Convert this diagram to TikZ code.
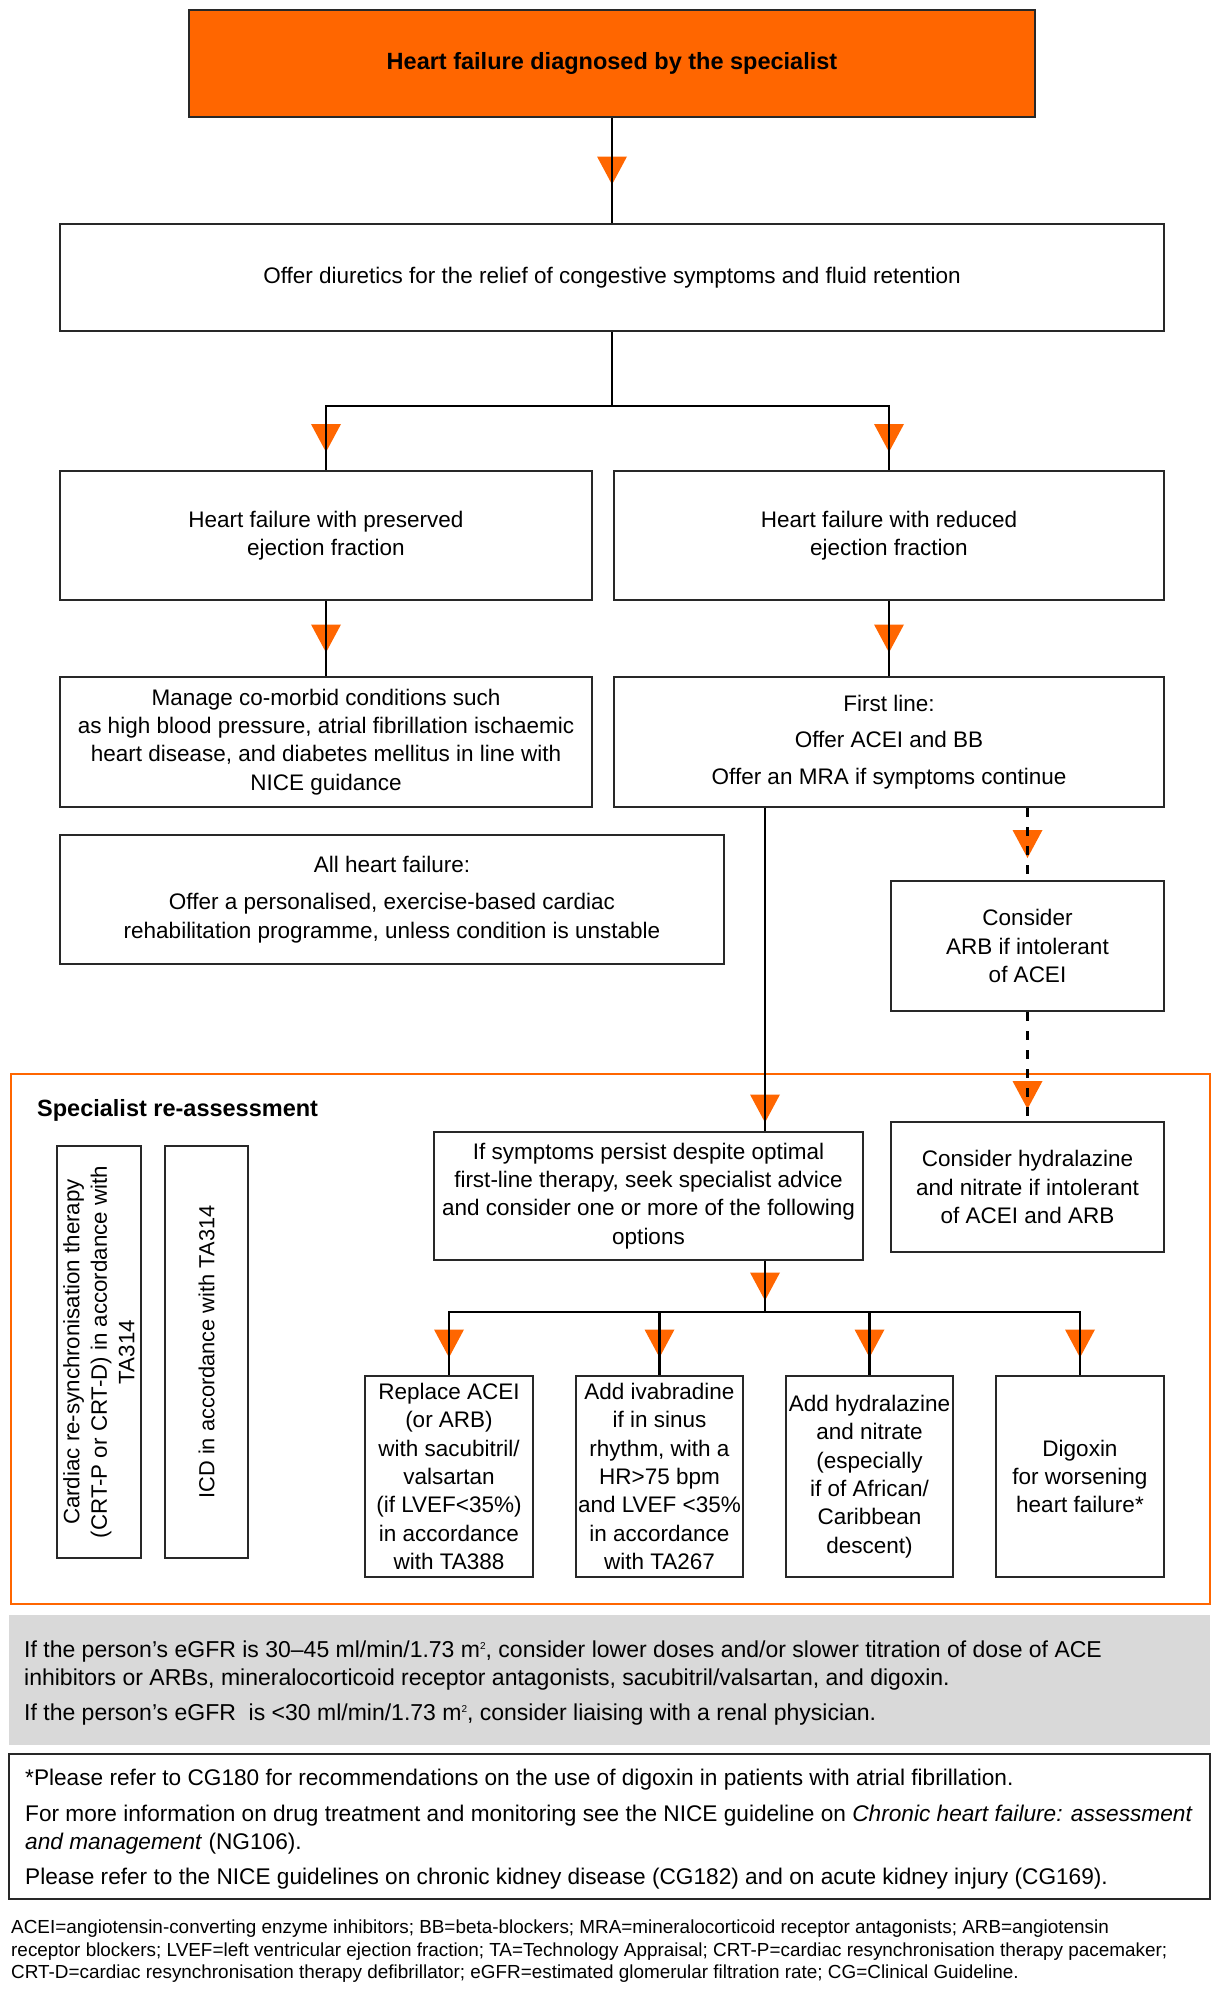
\documentclass[tikz,border=0pt]{standalone}
\usepackage{fontspec}
\setmainfont{Liberation Sans}
\usetikzlibrary{decorations.markings}
\definecolor{hforange}{RGB}{255,102,0}
\definecolor{hfgray}{RGB}{217,217,217}
\definecolor{hfline}{RGB}{40,40,40}
\newcommand\mainfs{\fontsize{22.5}{28.3}\selectfont}
\newcommand\panelfs{\fontsize{23}{28.3}\selectfont}
\newcommand\notefs{\fontsize{22.65}{28.3}\selectfont}
\newcommand\boldfs{\fontsize{23.5}{28}\selectfont\bfseries}
\newcommand\smallfs{\fontsize{18.9}{22.5}\selectfont}
\newcommand\sqm{m\raisebox{8pt}{\fontsize{10}{10}\selectfont 2}}
\begin{document}
\begin{tikzpicture}[x=1pt,y=-1pt,
  box/.style={draw=hfline, line width=2pt, fill=white, align=center, inner sep=0pt, font=\mainfs, text=black},
  conn/.style={draw=black, line width=2.4pt},
  dashpat/.style={dash pattern=on 9pt off 10pt},
  tri/.style={preaction={decorate,decoration={markings,mark=at position #1 with {\fill[hforange] (14pt,0pt) -- (-14pt,15pt) -- (-14pt,-15pt) -- cycle;}}}},
  tri/.default=0.5,
  txt/.style={anchor=base west, inner sep=0pt, font=\panelfs, text=black},
  notetxt/.style={anchor=base west, inner sep=0pt, font=\notefs, text=black},
  smalltxt/.style={anchor=base west, inner sep=0pt, font=\smallfs, text=black},
]
\useasboundingbox (0,0) rectangle (1223,2000);
\fill[white] (0,0) rectangle (1223,2000);

% containers
\node[draw=hforange, line width=2.5pt, minimum width=1199pt, minimum height=530pt, inner sep=0pt] (frame) at (610.5,1339) {};
\node[fill=hfgray, minimum width=1201pt, minimum height=130pt, inner sep=0pt] (grey) at (609.5,1680) {};
\node[draw=hfline, line width=2pt, minimum width=1201pt, minimum height=145pt, inner sep=0pt] (note) at (609.5,1826.5) {};

% boxes
\node[box, fill=hforange, font=\boldfs, minimum width=846pt, minimum height=107pt] (top) at (612,63.5) {Heart failure diagnosed by the specialist};
\node[box, minimum width=1104pt, minimum height=107pt] (diur) at (612,277.5) {Offer diuretics for the relief of congestive symptoms and fluid retention};
\node[box, minimum width=532pt, minimum height=129pt] (pres) at (326,535.5) {Heart failure with preserved\\ejection fraction};
\node[box, minimum width=550pt, minimum height=129pt] (red) at (889,535.5) {Heart failure with reduced\\ejection fraction};
\node[box, minimum width=532pt, minimum height=130pt] (manage) at (326,742) {Manage co-morbid conditions such\\as high blood pressure, atrial fibrillation ischaemic\\heart disease, and diabetes mellitus in line with\\NICE guidance};
\node[box, minimum width=550pt, minimum height=130pt] (first) at (889,742) {First line:\\[8pt]Offer ACEI and BB\\[8pt]Offer an MRA if symptoms continue};
\node[box, minimum width=664pt, minimum height=129pt] (allhf) at (392,899.5) {All heart failure:\\[9pt]Offer a personalised, exercise-based cardiac\\rehabilitation programme, unless condition is unstable};
\node[box, minimum width=273pt, minimum height=130pt] (arb) at (1027.5,946) {Consider\\ARB if intolerant\\of ACEI};

\node[anchor=base west, inner sep=0pt, font=\boldfs, text=black] (spec) at (37,1116) {Specialist re-assessment};
\node[box, minimum width=429pt, minimum height=128pt] (ifsym) at (648.5,1196) {If symptoms persist despite optimal\\first-line therapy, seek specialist advice\\and consider one or more of the following\\options};
\node[box, minimum width=273pt, minimum height=130pt] (hyd) at (1027.5,1187) {Consider hydralazine\\and nitrate if intolerant\\of ACEI and ARB};
\node[box, rotate=90, minimum width=412pt, minimum height=84pt, font=\fontsize{22.3}{27.5}\selectfont] (crt) at (99,1352) {Cardiac re-synchronisation therapy\\(CRT-P or CRT-D) in accordance with\\TA314};
\node[box, rotate=90, minimum width=412pt, minimum height=83pt, font=\fontsize{21.8}{27.5}\selectfont] (icd) at (206.5,1352) {ICD in accordance with TA314};

\node[box, minimum width=168pt, minimum height=201pt] (b1) at (449,1476.5) {Replace ACEI\\(or ARB)\\with sacubitril/\\valsartan\\(if LVEF<35\%)\\in accordance\\with TA388};
\node[box, minimum width=167pt, minimum height=201pt] (b2) at (659.5,1476.5) {Add ivabradine\\if in sinus\\rhythm, with a\\HR>75 bpm\\and LVEF <35\%\\in accordance\\with TA267};
\node[box, minimum width=167pt, minimum height=201pt] (b3) at (869.5,1476.5) {Add hydralazine\\and nitrate\\(especially\\if of African/\\Caribbean\\descent)};
\node[box, minimum width=168pt, minimum height=201pt] (b4) at (1080,1476.5) {Digoxin\\for worsening\\heart failure*};

% connectors
\draw[conn, tri] (top.south) -- (diur.north);
\coordinate (split) at (612,406);
\draw[conn] (diur.south) -- (split);
\draw[conn, line cap=rect] (pres.north |- split) -- (red.north |- split);
\draw[conn, tri] (pres.north |- split) -- (pres.north);
\draw[conn, tri] (red.north |- split) -- (red.north);
\draw[conn, tri] (pres.south) -- (manage.north);
\draw[conn, tri] (red.south) -- (first.north);
\coordinate (xs) at (765,0);
\draw[conn, tri=-22.5pt] (first.south -| xs) -- (ifsym.north -| xs);
\draw[conn, dashpat, tri] (first.south -| arb.north) -- (arb.north);
\draw[conn, dashpat, tri=-26pt] (arb.south) -- (hyd.north);
\coordinate (split2) at (765,1312);
\draw[conn, tri] (ifsym.south -| xs) -- (split2);
\draw[conn, line cap=rect] (b1.north |- split2) -- (b4.north |- split2);
\foreach \b in {b1,b2,b3,b4} {\draw[conn, tri] (\b.north |- split2) -- (\b.north);}

% grey panel text
\node[txt] (g1) at (24,1657) {If the person’s eGFR is 30–45 ml/min/1.73 \sqm, consider lower doses and/or slower titration of dose of ACE};
\node[txt] (g2) at (24,1685) {inhibitors or ARBs, mineralocorticoid receptor antagonists, sacubitril/valsartan, and digoxin.};
\node[txt] (g3) at (24,1720) {If the person’s eGFR\ \ is <30 ml/min/1.73 \sqm, consider liaising with a renal physician.};

% note text
\node[notetxt] (n1) at (25,1785) {*Please refer to CG180 for recommendations on the use of digoxin in patients with atrial fibrillation.};
\node[notetxt] (n2) at (25,1821) {For more information on drug treatment and monitoring see the NICE guideline on \textit{Chronic heart failure: assessment}};
\node[notetxt] (n3) at (25,1849) {\textit{and management} (NG106).};
\node[notetxt] (n4) at (25,1884) {Please refer to the NICE guidelines on chronic kidney disease (CG182) and on acute kidney injury (CG169).};

% abbreviations
\node[smalltxt] (a1) at (11,1933) {ACEI=angiotensin-converting enzyme inhibitors; BB=beta-blockers; MRA=mineralocorticoid receptor antagonists; ARB=angiotensin};
\node[smalltxt] (a2) at (11,1956) {receptor blockers; LVEF=left ventricular ejection fraction; TA=Technology Appraisal; CRT-P=cardiac resynchronisation therapy pacemaker;};
\node[smalltxt] (a3) at (11,1978) {CRT-D=cardiac resynchronisation therapy defibrillator; eGFR=estimated glomerular filtration rate; CG=Clinical Guideline.};
\end{tikzpicture}
\end{document}
